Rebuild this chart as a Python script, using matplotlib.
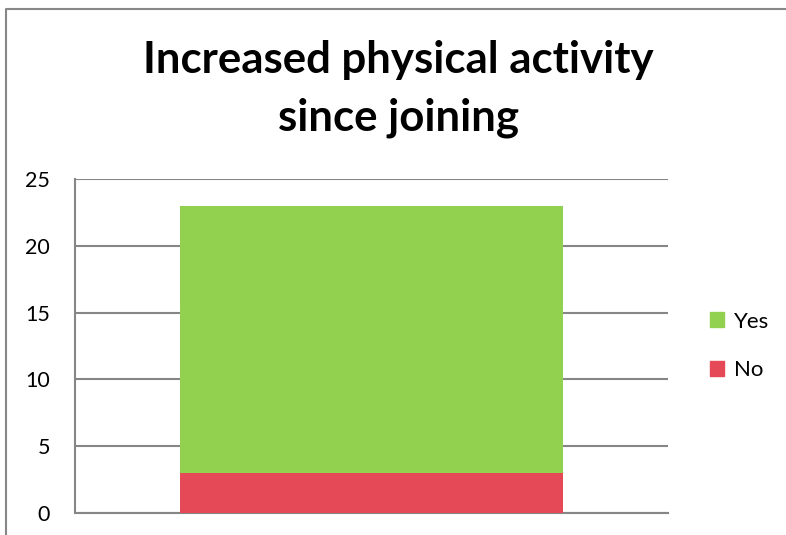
import matplotlib
matplotlib.use('Agg')
import matplotlib.pyplot as plt
from matplotlib.patches import Patch
from matplotlib.lines import Line2D

plt.rcParams['font.family'] = ['Lato', 'DejaVu Sans']

categories = ['']
no_counts = [3]
yes_counts = [20]
y_ticks = [0, 5, 10, 15, 20, 25]
title_lines = ['Increased physical activity', 'since joining']

W, H = 786, 535
fig = plt.figure(figsize=(W / 100, H / 100), dpi=100)

# outer chart frame (left and top edges visible)
fig.add_artist(Line2D([6 / W, 6 / W, 1.0], [0.0, 1 - 9 / H, 1 - 9 / H],
                      transform=fig.transFigure, color='#878787', lw=1.5))

ax = fig.add_axes([75 / W, 22 / H, (668 - 75) / W, (513 - 179) / H])

green = '#92D050'
red = '#E54856'
ax.bar(categories, no_counts, width=0.646, color=red, label='No', zorder=3)
ax.bar(categories, yes_counts, bottom=no_counts, width=0.646, color=green,
       label='Yes', zorder=3)

ax.set_xlim(-0.5, 0.5)
ax.set_ylim(0, 25)
ax.set_yticks(y_ticks)
ax.set_yticklabels([str(t) for t in y_ticks], fontsize=15.5)
ax.tick_params(axis='y', length=0, pad=18)
ax.tick_params(axis='x', length=0, labelbottom=False)
ax.grid(axis='y', color='#868686', lw=1.5, zorder=1)
for s in ['top', 'right']:
    ax.spines[s].set_visible(False)
for s in ['left', 'bottom']:
    ax.spines[s].set_color('#868686')
    ax.spines[s].set_linewidth(1.5)

# two-line bold title, placed by baseline
for line, base in zip(title_lines, [73, 130]):
    fig.text(398 / W, 1 - base / H, line, ha='center', va='baseline',
             fontsize=31.5, fontweight='bold')

handles = [Patch(color=green, label='Yes'), Patch(color=red, label='No')]
fig.legend(handles=handles, loc='center left',
           bbox_to_anchor=(690 / W, 1 - 346 / H), frameon=False,
           fontsize=16, handlelength=0.65, handleheight=0.65,
           handletextpad=0.45, labelspacing=1.3)

fig.savefig('out.png', dpi=100)
